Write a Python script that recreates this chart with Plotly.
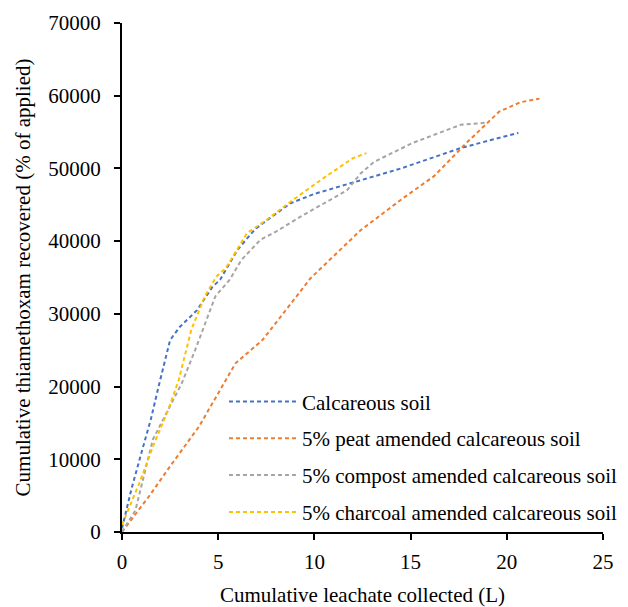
import plotly.graph_objects as go

names = ["Calcareous soil", "5% peat amended calcareous soil",
         "5% compost amended calcareous soil", "5% charcoal amended calcareous soil"]
colors = ["#4472C4", "#ED7D31", "#A5A5A5", "#FFC000"]

calc_x = [0, 0.5, 1.0, 1.5, 1.9, 2.5, 3.0, 3.9, 4.7, 5.1, 6.0, 6.9, 7.5, 8.75, 10.0, 11.9, 14.5, 17.6, 20.6]
calc_y = [500, 6000, 10800, 15500, 20000, 26400, 28200, 30500, 33700, 34700, 38800, 41600, 42800, 45200, 46500, 48000, 50000, 52800, 54900]

peat_x = [0, 1.4, 2.6, 4.0, 5.9, 7.3, 8.6, 9.8, 12.4, 14.5, 16.2, 17.9, 19.6, 20.7, 21.7]
peat_y = [0, 4900, 9400, 14500, 23200, 26400, 30800, 34900, 41500, 45700, 48900, 53500, 57800, 59100, 59600]

comp_x = [0, 0.7, 1.6, 2.4, 3.1, 3.8, 4.85, 5.6, 6.2, 7.2, 8.0, 9.3, 11.7, 12.4, 13.1, 15.1, 17.6, 19.0]
comp_y = [0, 3000, 12700, 16800, 20400, 25000, 32400, 34700, 37400, 40200, 41300, 43400, 47000, 49300, 50900, 53500, 56000, 56300]

char_x = [0, 0.9, 1.6, 2.4, 2.95, 3.6, 4.3, 4.9, 5.4, 6.5, 7.5, 8.9, 10.6, 12.0, 12.7]
char_y = [1000, 6700, 11700, 16800, 20900, 27800, 32400, 35100, 36300, 41100, 42900, 45700, 48900, 51400, 52100]

series = [(calc_x, calc_y), (peat_x, peat_y), (comp_x, comp_y), (char_x, char_y)]

x_ticks = [0, 5, 10, 15, 20, 25]
y_ticks = [0, 10000, 20000, 30000, 40000, 50000, 60000, 70000]

fig = go.Figure()
for i, ((xs, ys), nm, c) in enumerate(zip(series, names, colors)):
    fig.add_trace(go.Scatter(x=xs, y=ys, name=nm, mode="lines", legendgroup=str(i),
                             line=dict(color=c, width=2, dash="4px,3px")))

family = "Liberation Serif, Times New Roman, serif"
fs = 21
F = dict(family=family, size=fs, color="black")
fig.update_layout(
    width=620, height=599,
    margin=dict(l=113.5, r=25, t=15, b=75, autoexpand=False),
    paper_bgcolor="white", plot_bgcolor="white",
    font=F,
    showlegend=True,
    legend=dict(x=0.212, y=0.296, xanchor="left", yanchor="top",
                bgcolor="rgba(0,0,0,0)", font=F,
                tracegroupgap=6.5, itemwidth=68),
    xaxis=dict(range=[0, 25], tickvals=x_ticks, showgrid=False, zeroline=False,
               showline=True, linecolor="black", linewidth=2, ticks="outside",
               ticklen=6, tickwidth=1.5, tickcolor="black", automargin=False,
               ticklabelstandoff=4,
               title=dict(text="Cumulative leachate collected (L)", standoff=16, font=F),
               tickfont=F),
    yaxis=dict(range=[0, 70000], tickvals=y_ticks, showgrid=False, zeroline=False,
               showline=True, linecolor="black", linewidth=2, ticks="outside",
               ticklen=6, tickwidth=1.5, tickcolor="black", tickformat="d",
               automargin=False, ticklabelstandoff=9,
               title=dict(text="Cumulative thiamethoxam recovered (% of applied)", standoff=12, font=F),
               tickfont=F),
)
fig.write_html("out.html")
